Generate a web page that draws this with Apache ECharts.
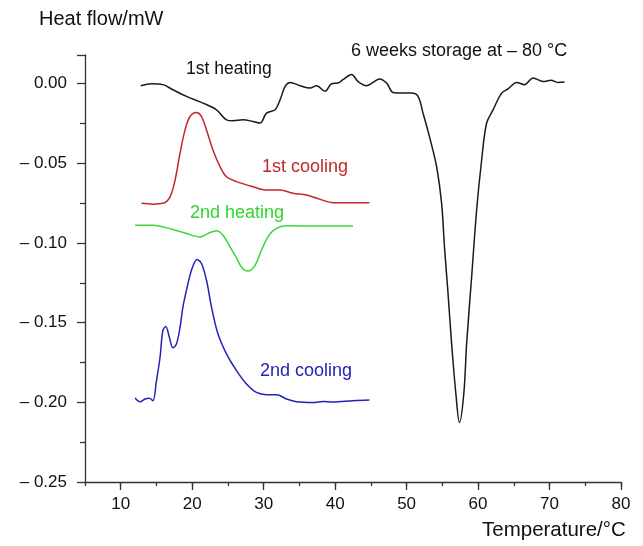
<!DOCTYPE html>
<html>
<head>
<meta charset="utf-8">
<script src="https://cdn.jsdelivr.net/npm/echarts@6/dist/echarts.min.js"></script>
<style>
  html, body { margin: 0; padding: 0; background: #fff; }
  #chart { width: 643px; height: 546px; }
</style>
</head>
<body>
<div id="chart"></div>
<script>
// 1st heating (black)
const heat1X = [12.8, 14.3, 15.9, 17.3, 19.2, 21.5, 23.4, 24.8, 25.7, 27.1, 28.5, 29.5, 30.4, 31.6, 32.3, 33.0, 33.7, 35.1, 36.5, 37.4, 38.6, 39.5, 40.4, 41.1, 42.3, 43.2, 44.4, 45.3, 46.2, 47.2, 48.1, 49.5, 50.7, 51.6, 52.3, 53.2, 54.2, 54.9, 55.3, 55.8, 56.3, 56.9, 57.4, 58.0, 58.4, 59.1, 59.8, 60.5, 61.2, 62.1, 63.3, 64.2, 65.4, 66.5, 67.7, 69.1, 70.2, 71.2, 72.1];
const heat1Y = [-0.0013, 0.0000, -0.0006, -0.0038, -0.0080, -0.0122, -0.0164, -0.0227, -0.0233, -0.0227, -0.0237, -0.0247, -0.0185, -0.0164, -0.0101, -0.0017, 0.0008, -0.0013, -0.0027, -0.0013, -0.0048, 0.0000, 0.0004, 0.0025, 0.0057, 0.0014, -0.0013, 0.0008, 0.0030, 0.0004, -0.0055, -0.0059, -0.0059, -0.0080, -0.0185, -0.0332, -0.0521, -0.0751, -0.1025, -0.1318, -0.1633, -0.1948, -0.2127, -0.1948, -0.1633, -0.1213, -0.0793, -0.0479, -0.0247, -0.0164, -0.0059, -0.0033, 0.0008, -0.0006, 0.0036, 0.0014, 0.0021, 0.0008, 0.0011];

// 1st cooling (red)
const cool1X = [12.9, 14.5, 15.9, 16.9, 17.6, 18.3, 19.0, 19.7, 20.6, 21.3, 22.0, 22.9, 23.9, 24.8, 26.2, 28.5, 30.4, 32.3, 34.1, 36.0, 37.9, 39.7, 42.5, 44.8];
const cool1Y = [-0.0751, -0.0756, -0.0751, -0.0710, -0.0605, -0.0436, -0.0290, -0.0206, -0.0181, -0.0206, -0.0290, -0.0416, -0.0521, -0.0584, -0.0615, -0.0647, -0.0668, -0.0668, -0.0688, -0.0699, -0.0726, -0.0747, -0.0747, -0.0747];

// 2nd heating (green)
const heat2X = [12.0, 14.5, 17.3, 19.2, 21.1, 22.2, 23.4, 24.3, 25.3, 26.2, 27.0, 27.8, 28.8, 29.7, 30.6, 31.6, 33.2, 37.9, 42.5];
const heat2Y = [-0.0888, -0.0888, -0.0915, -0.0940, -0.0962, -0.0940, -0.0923, -0.0951, -0.1025, -0.1093, -0.1159, -0.1176, -0.1140, -0.1045, -0.0962, -0.0913, -0.0892, -0.0894, -0.0894];

// 2nd cooling (blue)
const cool2X = [12.0, 12.7, 13.4, 14.0, 14.5, 15.0, 15.5, 15.9, 16.3, 16.8, 17.3, 17.8, 18.3, 18.7, 19.2, 19.9, 20.7, 21.3, 22.0, 22.7, 23.6, 24.8, 26.2, 27.6, 29.0, 30.4, 31.8, 33.2, 34.6, 36.9, 38.3, 39.7, 42.5, 44.8];
const cool2Y = [-0.1973, -0.1996, -0.1979, -0.1975, -0.1990, -0.1864, -0.1717, -0.1549, -0.1524, -0.1591, -0.1658, -0.1633, -0.1528, -0.1402, -0.1297, -0.1171, -0.1104, -0.1129, -0.1234, -0.1402, -0.1570, -0.1696, -0.1801, -0.1885, -0.1938, -0.1952, -0.1952, -0.1979, -0.1996, -0.2001, -0.1994, -0.1998, -0.1990, -0.1986];

const xMajor = [10, 20, 30, 40, 50, 60, 70, 80];

const FONT = '"Liberation Sans", Arial, sans-serif';
const AXIS_COLOR = '#333';

function pairs(xs, ys) {
    return xs.map((x, i) => [x, ys[i]]);
}

function line(name, xs, ys, color) {
    return {
        name: name,
        type: 'line',
        xAxisIndex: 0,
        data: pairs(xs, ys),
        showSymbol: false,
        smooth: 0.35,
        lineStyle: { color: color, width: 1.5 },
        silent: true
    };
}

function label(text, left, top, color, size) {
    return {
        type: 'text',
        left: left,
        top: top,
        style: { text: text, fill: color, font: size + 'px ' + FONT }
    };
}

const chart = echarts.init(document.getElementById('chart'));

chart.setOption({
    animation: false,
    grid: { left: 85, right: 22, top: 55, bottom: 64 },
    xAxis: [
        {
            type: 'value',
            min: 5,
            max: 80,
            interval: 5,
            position: 'bottom',
            splitLine: { show: false },
            axisLine: { onZero: false, lineStyle: { color: AXIS_COLOR, width: 1.3 } },
            axisTick: { length: 4, lineStyle: { color: AXIS_COLOR, width: 1.3 } },
            axisLabel: {
                customValues: xMajor,
                margin: 14,
                color: '#111',
                fontFamily: FONT,
                fontSize: 17
            }
        },
        {
            type: 'value',
            min: 5,
            max: 80,
            interval: 5,
            position: 'bottom',
            splitLine: { show: false },
            axisLine: { show: false, onZero: false },
            axisLabel: { show: false },
            axisTick: { customValues: xMajor, length: 8, lineStyle: { color: AXIS_COLOR, width: 1.3 } }
        }
    ],
    yAxis: {
        type: 'value',
        min: -0.25,
        max: 0.018,
        interval: 0.05,
        splitLine: { show: false },
        axisLine: { show: true, onZero: false, lineStyle: { color: AXIS_COLOR, width: 1.3 } },
        axisTick: { show: true, length: 8, lineStyle: { color: AXIS_COLOR, width: 1.3 } },
        minorTick: { show: true, splitNumber: 2, length: 5, lineStyle: { color: AXIS_COLOR, width: 1.3 } },
        axisLabel: {
            margin: 18,
            color: '#111',
            fontFamily: FONT,
            fontSize: 17,
            formatter: v => {
                const k = Math.round(v / 0.05);
                if (Math.abs(v - k * 0.05) > 1e-6) return '';
                if (k === 0) return '0.00';
                return '\u2013 ' + Math.abs(v).toFixed(2);
            }
        }
    },
    graphic: [
        label('Heat flow/mW', 39, 9, '#111', 20),
        label('6 weeks storage at \u2013 80 \u00B0C', 351, 42, '#111', 18),
        label('1st heating', 186, 60, '#111', 17.5),
        label('1st cooling', 262, 158, '#c0282a', 18),
        label('2nd heating', 190, 204, '#2fd62f', 18),
        label('2nd cooling', 260, 362, '#2323b8', 18),
        label('Temperature/\u00B0C', 482, 520, '#111', 20.5)
    ],
    series: [
        line('1st heating', heat1X, heat1Y, '#1a1a1a'),
        line('1st cooling', cool1X, cool1Y, '#c0282a'),
        line('2nd heating', heat2X, heat2Y, '#3ad63a'),
        line('2nd cooling', cool2X, cool2Y, '#2323b8')
    ]
});
</script>
</body>
</html>
